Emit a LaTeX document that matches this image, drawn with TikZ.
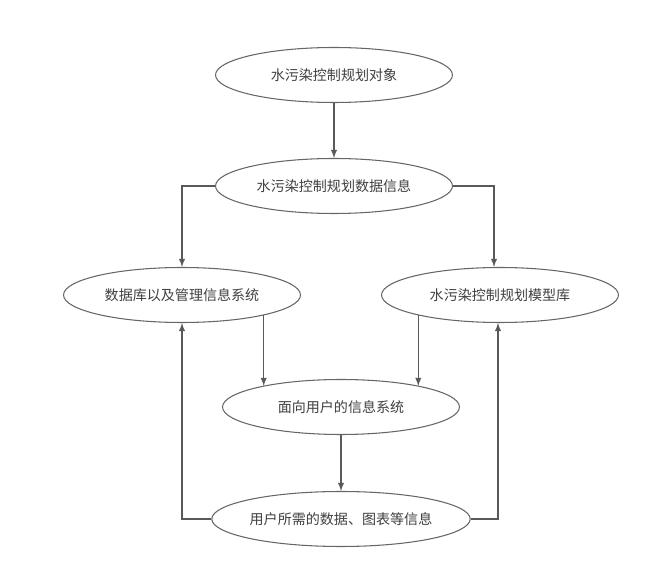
\documentclass[tikz,border=0pt]{standalone}
\usepackage{fontspec}
\newfontfamily\cjk{Noto Sans CJK SC}
\usetikzlibrary{shapes.geometric}

\tikzset{
  elps/.style={ellipse,draw=black!60,line width=0.6pt,fill=white,
    minimum width=4.74cm,minimum height=1.1cm,inner sep=0pt,
    text=black!75,font=\cjk\fontsize{8}{10}\selectfont},
  link/.style={->,>=latex,draw=black!65,line width=0.6pt}
}

\begin{document}
\begin{tikzpicture}[x=0.02cm,y=-0.02cm]
\useasboundingbox (0,0) rectangle (650,567);

\node[elps] (obj) at (334,75) {水污染控制规划对象};
\node[elps] (data) at (334,186) {水污染控制规划数据信息};
\node[elps] (db) at (182,295) {数据库以及管理信息系统};
\node[elps] (model) at (500,295) {水污染控制规划模型库};
\node[elps] (sys) at (341,407) {面向用户的信息系统};
\node[elps] (out) at (341,519) {用户所需的数据、图表等信息};

\draw[link] (obj) -- (data);
\draw[link] (data.west) -| (db.north);
\draw[link] (data.east) -| ([xshift=-0.12cm]model.north);
\draw[link] (db.-14) -- (db.-14 |- sys.165);
\draw[link] (model.194) -- (model.194 |- sys.15);
\draw[link] (sys) -- (out);
\draw[link] (out.west) -| (db.south);
\draw[link] (out.east) -| ([xshift=-0.04cm]model.south);
\end{tikzpicture}
\end{document}
